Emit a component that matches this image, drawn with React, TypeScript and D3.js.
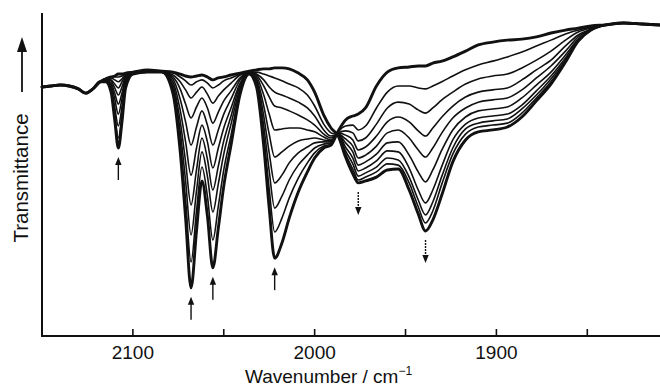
import * as d3 from "d3";

// wavenumbers (cm-1) shared by all spectra at the high end, where the traces coincide
const headWn = [2150, 2145, 2140, 2135, 2130, 2126, 2122, 2118];
const headT = [77.1, 77.4, 77.7, 77.4, 76.5, 75.2, 76.5, 78.7];

// sampling grid for the part where the spectra differ
const wn = [
  2115, 2112, 2110, 2108, 2106, 2104, 2100, 2092, 2084, 2078,
  2074, 2071, 2068, 2065, 2062, 2059, 2056, 2053, 2050, 2046,
  2041, 2036, 2032, 2028, 2025, 2022, 2018, 2014, 2009, 2004,
  2000, 1995, 1991, 1987, 1983, 1979, 1976, 1972, 1966, 1960,
  1954, 1948, 1943, 1939, 1935, 1930, 1924, 1917, 1910, 1902,
  1894, 1886, 1878, 1870, 1862, 1855, 1848,
];

// low-wavenumber end, where the traces merge again
const tailWn = [1840, 1830, 1820, 1810];
const tailT = [96.3, 96.9, 96.6, 96.3];

// transmittance (arbitrary %, axis bottom = 0, axis top = 100), first scan to last
const scan0 = [78.7, 75.5, 66.9, 58.2, 66.3, 76.8, 81.1, 81.7, 81.7, 75.2, 57.3, 36.5, 14.9, 32.5, 48.0, 37.2, 21.1, 33.4, 46.4, 59.1, 74.9, 81.1, 77.1, 58.8, 39.6, 24.1, 28.8, 36.5, 44.6, 50.8, 55.1, 58.2, 59.1, 63.5, 66.9, 68.1, 68.7, 70.6, 77.4, 81.7, 83.0, 83.3, 83.6, 83.6, 84.5, 85.1, 86.4, 88.2, 90.1, 91.0, 91.6, 91.9, 92.6, 93.8, 94.7, 95.3, 96.0];
const scan1 = [79.0, 76.2, 68.7, 61.3, 68.4, 77.4, 81.1, 81.7, 81.7, 75.9, 60.4, 42.1, 22.9, 38.7, 52.3, 43.3, 29.7, 40.2, 51.4, 62.2, 75.9, 81.1, 77.7, 61.9, 45.5, 32.2, 36.5, 42.7, 48.9, 53.6, 56.7, 58.8, 59.4, 63.2, 65.0, 65.3, 63.8, 65.0, 70.6, 75.5, 77.4, 77.4, 76.8, 76.5, 77.4, 78.7, 80.5, 82.4, 83.9, 85.1, 86.4, 87.9, 89.8, 91.6, 93.5, 94.7, 95.7];
const scan2 = [79.0, 77.1, 70.9, 65.0, 70.9, 78.3, 81.4, 82.0, 81.7, 76.8, 63.5, 48.0, 31.3, 44.9, 57.0, 49.5, 38.4, 47.1, 56.3, 65.6, 76.8, 81.4, 78.3, 65.0, 51.1, 39.6, 43.3, 48.3, 52.9, 56.0, 58.2, 59.4, 59.8, 62.9, 63.5, 62.9, 60.4, 61.3, 65.6, 70.6, 72.4, 71.8, 70.0, 69.0, 70.6, 73.1, 75.5, 78.0, 79.6, 80.5, 81.1, 83.0, 85.4, 88.2, 91.6, 94.1, 95.4];
const scan3 = [79.3, 77.7, 73.4, 68.7, 73.4, 79.0, 81.4, 82.0, 81.7, 77.7, 66.6, 53.9, 40.6, 51.4, 61.3, 54.8, 45.2, 52.6, 60.4, 68.1, 77.7, 81.4, 79.0, 68.1, 56.7, 47.4, 49.8, 53.6, 56.7, 58.5, 59.8, 60.1, 60.1, 62.9, 62.2, 60.7, 57.6, 58.5, 61.9, 66.3, 67.8, 66.3, 63.5, 61.9, 64.4, 67.8, 71.2, 74.0, 75.5, 76.2, 76.8, 79.3, 82.4, 85.4, 89.8, 93.2, 95.0];
const scan4 = [79.3, 78.3, 75.2, 71.8, 75.2, 79.6, 81.7, 82.0, 81.7, 78.7, 70.0, 60.1, 49.8, 58.2, 65.3, 60.1, 52.0, 58.2, 64.4, 70.6, 78.3, 81.4, 79.6, 71.2, 62.5, 55.4, 57.0, 58.8, 60.4, 61.0, 61.3, 60.7, 60.4, 62.5, 61.0, 58.8, 55.1, 56.0, 58.8, 62.9, 63.8, 61.3, 57.6, 55.4, 58.2, 62.9, 67.5, 70.6, 72.4, 73.1, 73.7, 76.2, 79.9, 83.6, 88.2, 92.6, 95.0];
const scan5 = [79.6, 79.0, 76.8, 74.6, 77.1, 80.2, 81.7, 82.0, 81.7, 79.6, 73.4, 66.3, 59.1, 64.7, 69.7, 65.3, 59.1, 63.8, 68.7, 73.4, 79.3, 81.4, 80.2, 74.6, 68.7, 63.8, 64.1, 64.4, 64.4, 63.8, 63.2, 61.6, 60.7, 62.5, 59.8, 57.0, 52.9, 53.9, 56.3, 59.8, 60.1, 56.0, 50.8, 47.7, 51.4, 57.6, 63.8, 67.8, 69.7, 70.3, 70.9, 73.7, 77.7, 81.7, 87.0, 91.9, 94.7];
const scan6 = [79.6, 79.3, 78.0, 76.8, 78.7, 80.5, 81.7, 82.0, 81.7, 80.2, 76.5, 71.8, 67.5, 70.9, 73.7, 70.6, 65.9, 69.3, 72.8, 75.9, 79.9, 81.7, 80.8, 77.4, 74.0, 71.2, 70.6, 69.7, 68.4, 66.9, 65.3, 62.5, 61.3, 62.5, 58.5, 55.1, 51.1, 52.0, 54.2, 57.3, 57.0, 52.0, 45.2, 41.2, 45.2, 52.6, 60.7, 65.6, 67.5, 68.1, 68.7, 71.5, 75.9, 80.5, 86.1, 91.6, 94.7];
const scan7 = [79.6, 79.9, 79.3, 78.7, 79.6, 80.8, 81.7, 82.0, 81.7, 80.8, 78.7, 76.2, 73.7, 75.5, 77.1, 74.9, 72.1, 74.3, 76.2, 78.3, 80.8, 81.7, 81.1, 79.3, 77.1, 75.5, 74.6, 73.7, 72.4, 70.6, 68.1, 63.8, 61.9, 62.2, 57.3, 53.3, 49.5, 50.5, 52.3, 55.1, 54.5, 49.2, 42.1, 37.5, 41.5, 49.5, 58.2, 64.1, 65.9, 66.6, 67.2, 70.3, 74.6, 79.6, 85.4, 91.3, 94.7];
const scan8 = [79.6, 80.2, 80.2, 80.2, 80.5, 81.1, 81.7, 82.0, 81.7, 81.4, 80.2, 79.0, 77.7, 78.7, 79.3, 78.3, 76.8, 77.7, 79.0, 79.9, 81.1, 81.7, 81.7, 81.1, 80.5, 79.9, 79.0, 78.0, 76.8, 74.6, 71.2, 65.6, 62.9, 62.2, 56.3, 51.7, 48.3, 49.2, 50.8, 53.3, 52.9, 47.4, 40.0, 35.0, 38.7, 47.1, 56.3, 62.5, 64.7, 65.3, 65.9, 69.0, 73.7, 78.7, 85.1, 91.3, 94.7];
const scan9 = [79.6, 80.2, 80.5, 81.1, 81.1, 81.4, 81.7, 82.4, 82.0, 81.7, 81.1, 80.5, 80.2, 80.5, 80.8, 80.2, 79.3, 79.9, 80.2, 80.8, 81.4, 82.0, 82.4, 82.7, 82.7, 83.0, 83.0, 82.7, 81.4, 79.3, 75.5, 68.4, 64.4, 61.9, 55.4, 50.2, 47.4, 48.0, 49.2, 51.4, 51.7, 45.2, 37.8, 32.5, 35.9, 43.7, 53.9, 60.7, 63.2, 63.8, 64.7, 67.8, 72.8, 78.0, 84.8, 91.3, 94.7];

const scans = [scan0, scan1, scan2, scan3, scan4, scan5, scan6, scan7, scan8, scan9];

// marked bands and whether they grow (down) or fade (up)
const bandWn = [2108, 2068, 2056, 2022, 1976, 1939];
const bandDir = ["up", "up", "up", "up", "down", "down"];

const xTicks = [2100, 2050, 2000, 1950, 1900, 1850];
const xLabels = [2100, 2000, 1900];

const W = 660;
const H = 386;
const margin = { top: 13, right: 0, bottom: 50, left: 42 };
const x0 = margin.left;
const yBase = H - margin.bottom;

const font = "'Liberation Sans', Arial, sans-serif";

export default function App() {
  const x = d3.scaleLinear().domain([2150, 1810]).range([x0, W - margin.right]);
  const y = d3.scaleLinear().domain([0, 100]).range([yBase, margin.top]);

  const line = d3
    .line<[number, number]>()
    .x((d) => x(d[0]))
    .y((d) => y(d[1]))
    .curve(d3.curveMonotoneX);

  const paths = scans.map((s) => {
    const pts: [number, number][] = [
      ...headWn.map((w, i) => [w, headT[i]] as [number, number]),
      ...wn.map((w, i) => [w, s[i]] as [number, number]),
      ...tailWn.map((w, i) => [w, tailT[i]] as [number, number]),
    ];
    return line(pts) || "";
  });

  // draw thin intermediate scans first, the first and last scan bold on top
  const order = d3.range(1, scans.length - 1).concat([0, scans.length - 1]);

  const arrows = bandWn.map((b, k) => {
    const i = wn.indexOf(b);
    const deepest = d3.min(scans, (s) => s[i]) as number;
    const top = y(deepest) + 9;
    return { x: x(b), top, bottom: top + 23, dir: bandDir[k] };
  });

  return (
    <svg
      width={W}
      height={H}
      style={{ position: "absolute", left: 0, top: 0, background: "#fff" }}
    >
      <rect width={W} height={H} fill="#fff" />

      {order.map((k) => {
        const bold = k === 0 || k === scans.length - 1;
        return (
          <path
            key={k}
            d={paths[k]}
            fill="none"
            stroke="#111"
            strokeWidth={bold ? 2.9 : 1.6}
            strokeLinejoin="round"
            strokeLinecap="round"
          />
        );
      })}

      {/* band arrows */}
      {arrows.map((a, k) => {
        const head = 8;
        const hw = 3.2;
        return (
          <g key={k} fill="#111" stroke="#111">
            {a.dir === "up" ? (
              <>
                <line x1={a.x} x2={a.x} y1={a.top + head - 1} y2={a.bottom} strokeWidth={1.4} />
                <path d={`M${a.x},${a.top} L${a.x - hw},${a.top + head} L${a.x + hw},${a.top + head} Z`} stroke="none" />
              </>
            ) : (
              <>
                <line x1={a.x} x2={a.x} y1={a.top} y2={a.bottom - head + 1} strokeWidth={1.4} strokeDasharray="2 1" />
                <path d={`M${a.x},${a.bottom} L${a.x - hw},${a.bottom - head} L${a.x + hw},${a.bottom - head} Z`} stroke="none" />
              </>
            )}
          </g>
        );
      })}

      {/* axes */}
      <line x1={x0} x2={x0} y1={margin.top} y2={yBase + 1} stroke="#111" strokeWidth={2} />
      <line x1={x0 - 1} x2={W} y1={yBase} y2={yBase} stroke="#111" strokeWidth={2} />
      {xTicks.map((t) => (
        <line key={t} x1={x(t)} x2={x(t)} y1={yBase} y2={yBase - 7} stroke="#111" strokeWidth={1.6} />
      ))}
      {xLabels.map((t) => (
        <text key={t} x={x(t)} y={yBase + 23} textAnchor="middle" fontFamily={font} fontSize={19} fill="#111">
          {t}
        </text>
      ))}
      <text x={245} y={383} fontFamily={font} fontSize={19} fill="#111">
        Wavenumber / cm
        <tspan fontSize={12} dy={-8}>−1</tspan>
      </text>

      {/* y title with arrow */}
      <text
        transform={`translate(28,178) rotate(-90)`}
        textAnchor="middle"
        fontFamily={font}
        fontSize={20.5}
        fill="#111"
      >
        Transmittance
      </text>
      <line x1={22} x2={22} y1={92} y2={47} stroke="#111" strokeWidth={1.8} />
      <path d="M22,37 L17,52 L27,52 Z" fill="#111" />
    </svg>
  );
}
